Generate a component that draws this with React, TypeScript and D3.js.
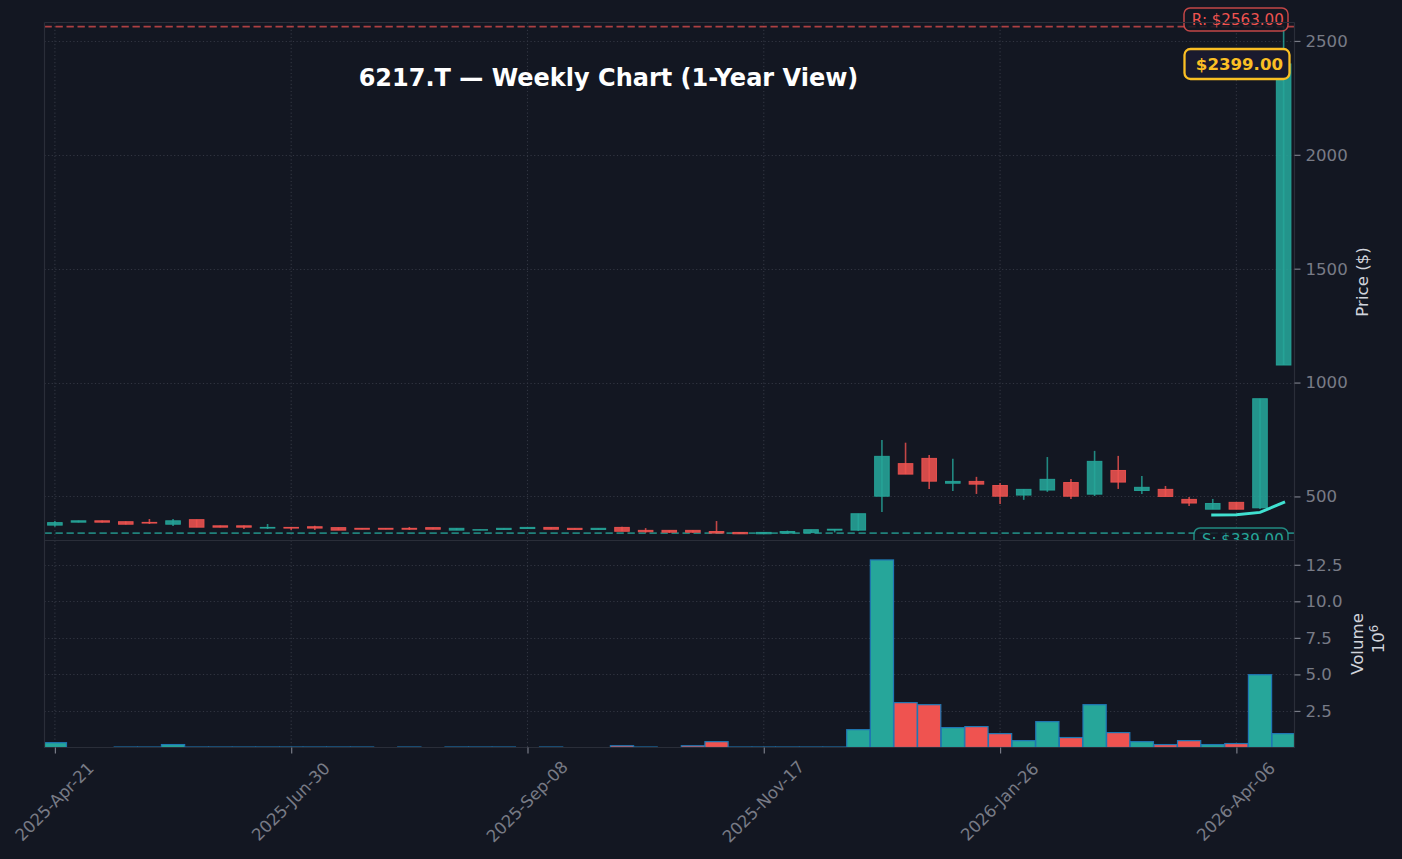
import { useEffect, useRef } from 'react'
import * as d3 from 'd3'

const W = 1402
const H = 859

const opens = [374, 387, 393, 389, 386, 378, 398, 371, 371, 361, 364, 367, 363, 360, 360, 360, 363, 352, 352, 355, 359, 364, 360, 355, 364, 351, 351, 351, 346, 342, 336, 339, 341, 352, 352, 501, 644, 667, 558, 566, 548, 506, 528, 561, 510, 614, 526, 531, 487, 444, 474, 450, 1077]
const closes = [385, 393, 387, 378, 383, 393, 365, 365, 365, 364, 361, 361, 352, 356, 356, 356, 356, 360, 354, 360, 364, 356, 355, 360, 347, 345, 343, 343, 339, 336, 342, 346, 354, 356, 424, 676, 598, 567, 566, 554, 501, 531, 575, 501, 654, 563, 540, 500, 471, 469, 444, 929, 2399]
const highs = [392, 394, 394, 390, 401, 401, 398, 372, 372, 379, 364, 371, 363, 360, 360, 366, 363, 360, 354, 360, 364, 364, 360, 360, 367, 361, 351, 351, 392, 342, 342, 350, 354, 356, 424, 748, 736, 682, 665, 586, 559, 531, 673, 577, 700, 678, 590, 546, 498, 489, 474, 929, 2563]
const lows = [367, 386, 386, 377, 379, 370, 365, 364, 357, 357, 353, 353, 352, 356, 356, 353, 356, 352, 352, 355, 359, 356, 355, 355, 347, 341, 340, 340, 339, 336, 336, 339, 341, 342, 348, 432, 598, 533, 524, 511, 467, 485, 520, 489, 502, 533, 511, 500, 458, 444, 444, 445, 1077]
// millions of shares, 0 = nothing drawn
const volumes = [0.33, 0, 0, 0.03, 0.03, 0.2, 0.03, 0.03, 0.03, 0.03, 0.03, 0.03, 0.03, 0.03, 0, 0.03, 0, 0.03, 0.03, 0.03, 0, 0.03, 0, 0, 0.12, 0.03, 0, 0.12, 0.4, 0.03, 0.03, 0.03, 0.03, 0.03, 1.22, 12.83, 3.07, 2.93, 1.36, 1.43, 0.95, 0.47, 1.77, 0.68, 2.93, 1.02, 0.4, 0.2, 0.47, 0.2, 0.27, 4.98, 0.95]

const maWeeks = [49, 50, 51, 52]
const maValues = [419, 420, 430, 474]

const tickWeeks = [0, 10, 20, 30, 40, 50]
const tickLabels = ['2025-Apr-21', '2025-Jun-30', '2025-Sep-08', '2025-Nov-17', '2026-Jan-26', '2026-Apr-06']
const priceTicks = [500, 1000, 1500, 2000, 2500]
const volumeTicks = [2.5, 5, 7.5, 10, 12.5]

const resistance = 2563
const support = 339
const lastPrice = 2399

const BG = '#131722'
const UP = '#26a69a'
const DOWN = '#ef5350'
const GOLD = '#fbbf24'
const SPINE = '#2a2e39'
const MUTED = '#787b86'
const LABEL = '#d1d4dc'
const FONT = '"DejaVu Sans", sans-serif'

export default function App() {
  const svgRef = useRef<SVGSVGElement>(null)

  useEffect(() => {
    if (!svgRef.current) return
    const svg = d3.select(svgRef.current)
    svg.selectAll('*').remove()

    const left = 44.5
    const right = 1294.5
    const top = 22.5
    const mid = 540.5
    const bottom = 747.5

    const x = d3.scaleLinear().domain([-0.44, 52.46]).range([left, right])
    const y = d3.scaleLinear().domain([306.5, 2581]).range([mid, top])
    const v = d3.scaleLinear().domain([0, 14.16]).range([bottom, mid])
    const isUp = (i: number) => closes[i] >= opens[i]
    const colour = (i: number) => (isUp(i) ? UP : DOWN)

    svg.append('rect').attr('width', W).attr('height', H).attr('fill', BG)

    const defs = svg.append('defs')
    defs.append('clipPath').attr('id', 'vol-clip').append('rect')
      .attr('x', left).attr('y', mid).attr('width', right - left).attr('height', bottom - mid)

    const grid = (g: any, x1: number, y1: number, x2: number, y2: number) =>
      g.append('line')
        .attr('x1', x1).attr('y1', y1).attr('x2', x2).attr('y2', y2)
        .attr('stroke', '#323642')
        .attr('stroke-width', 1.1)
        .attr('stroke-dasharray', '1.2 2.4')

    // Price panel
    const price = svg.append('g')
    priceTicks.forEach(t => grid(price, left, Math.round(y(t)) + 0.5, right, Math.round(y(t)) + 0.5))
    tickWeeks.forEach(t => grid(price, x(t), top, x(t), mid))

    price.append('line')
      .attr('x1', left).attr('x2', right).attr('y1', y(resistance)).attr('y2', y(resistance))
      .attr('stroke', DOWN).attr('stroke-opacity', 0.7).attr('stroke-width', 1.7).attr('stroke-dasharray', '7.3 3.7')
    price.append('line')
      .attr('x1', left).attr('x2', right).attr('y1', y(support)).attr('y2', y(support))
      .attr('stroke', UP).attr('stroke-opacity', 0.75).attr('stroke-width', 1.7).attr('stroke-dasharray', '7.3 3.7')

    // Candles
    opens.forEach((o, i) => {
      const c = closes[i]
      price.append('line')
        .attr('x1', x(i)).attr('x2', x(i)).attr('y1', y(highs[i])).attr('y2', y(lows[i]))
        .attr('stroke', colour(i)).attr('stroke-opacity', 0.8).attr('stroke-width', 1.6)
      price.append('rect')
        .attr('x', x(i) - 7.3).attr('width', 14.6)
        .attr('y', y(Math.max(o, c))).attr('height', Math.abs(y(o) - y(c)))
        .attr('fill', colour(i)).attr('fill-opacity', 0.88)
        .attr('stroke', colour(i)).attr('stroke-opacity', 0.9).attr('stroke-width', 1)
    })

    // Moving average
    const maLine = d3.line<number>()
      .x(d => x(d))
      .y((_, i) => y(maValues[i]))
    price.append('path')
      .attr('d', maLine(maWeeks))
      .attr('fill', 'none')
      .attr('stroke', '#40e0d0')
      .attr('stroke-width', 3)
      .attr('stroke-linecap', 'square')

    // S / R / last price tags
    const tag = (cx: number, cy: number, w: number, h: number, stroke: string, fill: string, sw: number, text: string, size: number, weight: string, op: number, pad: number) => {
      price.append('rect')
        .attr('x', cx).attr('y', cy).attr('width', w).attr('height', h).attr('rx', 6)
        .attr('fill', fill).attr('stroke', stroke).attr('stroke-opacity', op).attr('stroke-width', sw)
      price.append('text')
        .attr('x', cx + w - pad).attr('y', cy + h / 2)
        .attr('dy', '0.36em')
        .attr('text-anchor', 'end')
        .attr('font-family', FONT).attr('font-size', size).attr('font-weight', weight)
        .attr('fill', stroke)
        .text(text)
    }
    tag(1194, 528, 94, 22.5, UP, 'rgba(19,23,34,0.85)', 1.5, `S: $${support.toFixed(2)}`, 15.1, 'normal', 0.8, 4.2)
    tag(1184, 8, 104, 23, DOWN, 'rgba(19,23,34,0.85)', 1.5, `R: $${resistance.toFixed(2)}`, 15.1, 'normal', 0.8, 4.2)
    tag(1184.5, 49, 105, 30, GOLD, '#1a1a2e', 2.3, `$${lastPrice.toFixed(2)}`, 16.6, 'bold', 1, 6.5)

    price.append('text')
      .attr('x', 608.5).attr('y', 77.5)
      .attr('dy', '0.36em')
      .attr('text-anchor', 'middle')
      .attr('font-family', FONT).attr('font-size', 24).attr('font-weight', 'bold')
      .attr('fill', '#ffffff')
      .text('6217.T — Weekly Chart (1-Year View)')

    // Volume panel, painted over the bottom of the S tag
    const vol = svg.append('g')
    vol.append('rect')
      .attr('x', left).attr('y', mid).attr('width', right - left).attr('height', bottom - mid)
      .attr('fill', BG)
    volumeTicks.forEach(t => grid(vol, left, Math.round(v(t)) + 0.5, right, Math.round(v(t)) + 0.5))
    tickWeeks.forEach(t => grid(vol, x(t), mid, x(t), bottom))

    const bars = vol.append('g').attr('clip-path', 'url(#vol-clip)')
    volumes.forEach((d, i) => {
      if (d <= 0) return
      bars.append('rect')
        .attr('x', x(i) - 11.6).attr('width', 23.2)
        .attr('y', v(d)).attr('height', v(0) - v(d))
        .attr('fill', colour(i))
        .attr('stroke', '#1f77b4').attr('stroke-width', 1.2)
    })

    // Spines
    const spines = [[left, top, right, top], [left, mid, right, mid], [left, bottom, right, bottom], [left, top, left, bottom], [right, top, right, bottom]]
    spines.forEach(([x1, y1, x2, y2]) => {
      svg.append('line')
        .attr('x1', x1).attr('y1', y1).attr('x2', x2).attr('y2', y2)
        .attr('stroke', SPINE).attr('stroke-width', 1.2)
    })

    // Axes
    const styleAxis = (g: any) => {
      g.select('.domain').remove()
      g.selectAll('line').attr('stroke', MUTED).attr('stroke-width', 1.2)
      g.selectAll('text')
        .attr('fill', MUTED)
        .attr('font-family', FONT)
        .attr('font-size', 16.6)
        .attr('dy', '0.32em')
    }

    const priceAxis = d3.axisRight(y).tickValues(priceTicks).tickSize(6).tickPadding(5).tickFormat(d => String(d))
    svg.append('g').attr('transform', `translate(${right},0)`).call(priceAxis).call(styleAxis)

    const volumeAxis = d3.axisRight(v).tickValues(volumeTicks).tickSize(6).tickPadding(5).tickFormat(d3.format('.1f') as any)
    svg.append('g').attr('transform', `translate(${right},0)`).call(volumeAxis).call(styleAxis)

    const weekAxis = d3.axisBottom(x).tickValues(tickWeeks).tickSize(6).tickFormat((_, i) => tickLabels[i])
    const weekG = svg.append('g').attr('transform', `translate(0,${bottom})`).call(weekAxis).call(styleAxis)
    weekG.selectAll('text')
      .attr('text-anchor', 'middle')
      .attr('dy', 0)
      .attr('y', 0)
      .attr('dominant-baseline', 'middle')
      .attr('transform', 'translate(0,55) rotate(-45)')

    // Axis titles
    const rotated = (cx: number, cy: number) =>
      svg.append('text')
        .attr('transform', `translate(${cx},${cy}) rotate(-90)`)
        .attr('text-anchor', 'middle')
        .attr('font-family', FONT).attr('font-size', 16.6)
        .attr('fill', LABEL)
    rotated(1368, 282).text('Price ($)')
    rotated(1363, 644).text('Volume')
    const exp = rotated(1384, 639)
    exp.append('tspan').text('10')
    exp.append('tspan').attr('dy', -6.5).attr('font-size', 11.6).text('6')
  }, [])

  return <svg ref={svgRef} width={W} height={H} style={{ position: 'fixed', left: 0, top: 0, display: 'block' }} />
}
